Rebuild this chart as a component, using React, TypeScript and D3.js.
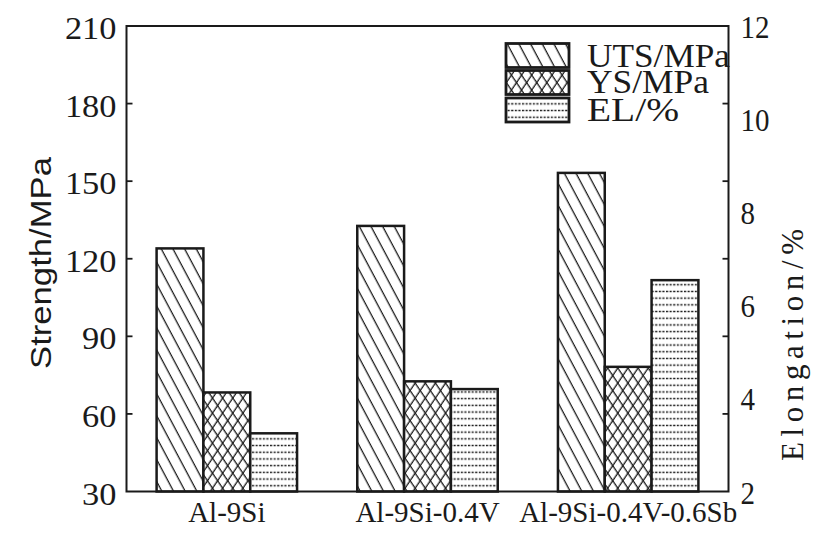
import React from "react";
import * as d3 from "d3";

const categories = ["Al-9Si", "Al-9Si-0.4V", "Al-9Si-0.4V-0.6Sb"];
const utsValues = [124, 132.7, 153.2];
const ysValues = [68.3, 72.6, 78.2];
const elValues = [3.25, 4.2, 6.54];
const leftTicks = [30, 60, 90, 120, 150, 180, 210];
const rightTicks = [2, 4, 6, 8, 10, 12];
const seriesNames = ["UTS/MPa", "YS/MPa", "EL/%"];

const W = 831;
const H = 533;
const M = { left: 126.5, right: 728.5, top: 26, bottom: 491.5 };

const serif = "'Liberation Serif', 'Times New Roman', serif";
const sans = "'Liberation Sans', Arial, sans-serif";

export default function App() {
  const x0 = d3
    .scaleBand<string>()
    .domain(categories)
    .range([M.left, M.right])
    .paddingInner(0.3)
    .paddingOuter(0.15);
  const x1 = d3
    .scaleBand<string>()
    .domain(seriesNames)
    .range([0, x0.bandwidth()])
    .padding(0);
  const yL = d3.scaleLinear().domain([30, 210]).range([M.bottom, M.top]);
  const yR = d3.scaleLinear().domain([2, 12]).range([M.bottom, M.top]);

  const fills = ["url(#uts)", "url(#ys1)", "url(#el)"];
  const legendX = 506;
  const legendW = 63;
  const legendRows = [43.5, 70.5, 98];
  const legendH = 24;
  const legendTextBase = [66.5, 92.5, 121];
  const legendTextLen = [143, 122, 92];

  const bw = 2.5;

  const drawBar = (
    key: string,
    xx: number,
    yTop: number,
    w: number,
    h: number,
    sIdx: number
  ) => (
    <g key={key}>
      <rect x={xx} y={yTop} width={w} height={h} fill="#fff" />
      <rect x={xx} y={yTop} width={w} height={h} fill={fills[sIdx]} />
      {sIdx === 1 && (
        <rect x={xx} y={yTop} width={w} height={h} fill="url(#ys2)" />
      )}
      <rect
        x={xx}
        y={yTop}
        width={w}
        height={h}
        fill="none"
        stroke="#1a1a1a"
        strokeWidth={bw}
      />
    </g>
  );

  return (
    <svg
      width={W}
      height={H}
      style={{ position: "absolute", left: 0, top: 0, background: "#fff" }}
    >
      <defs>
        <pattern
          id="uts"
          patternUnits="userSpaceOnUse"
          width={10.3}
          height={20}
          patternTransform="rotate(-28)"
        >
          <line x1={5} y1={-2} x2={5} y2={22} stroke="#1a1a1a" strokeWidth={1.3} />
        </pattern>
        <pattern
          id="ys1"
          patternUnits="userSpaceOnUse"
          width={8.4}
          height={20}
          patternTransform="rotate(-34)"
        >
          <line x1={4} y1={-2} x2={4} y2={22} stroke="#1a1a1a" strokeWidth={1.3} />
        </pattern>
        <pattern
          id="ys2"
          patternUnits="userSpaceOnUse"
          width={8.4}
          height={20}
          patternTransform="rotate(34)"
        >
          <line x1={4} y1={-2} x2={4} y2={22} stroke="#1a1a1a" strokeWidth={1.3} />
        </pattern>
        <pattern
          id="el"
          patternUnits="userSpaceOnUse"
          width={7.2}
          height={6.7}
        >
          <line
            x1={0}
            y1={3.3}
            x2={7.2}
            y2={3.3}
            stroke="#1a1a1a"
            strokeWidth={1.5}
            strokeDasharray="2.2 1.4"
          />
        </pattern>
      </defs>

      {/* bars */}
      {categories.map((c, i) => {
        const gx = x0(c)!;
        const vals = [
          yL(utsValues[i]),
          yL(ysValues[i]),
          yR(elValues[i]),
        ];
        return (
          <g key={c}>
            {seriesNames.map((s, j) =>
              drawBar(
                c + s,
                gx + x1(s)!,
                vals[j],
                x1.bandwidth(),
                M.bottom - vals[j],
                j
              )
            )}
          </g>
        );
      })}

      {/* frame */}
      <rect
        x={M.left}
        y={M.top}
        width={M.right - M.left}
        height={M.bottom - M.top}
        fill="none"
        stroke="#1a1a1a"
        strokeWidth={2}
      />

      {/* left ticks */}
      {leftTicks.map((t) => (
        <g key={"l" + t}>
          {t !== 30 && t !== 210 && (
            <line
              x1={M.left}
              x2={M.left + 6}
              y1={yL(t)}
              y2={yL(t)}
              stroke="#1a1a1a"
              strokeWidth={1.8}
            />
          )}
          <text
            x={M.left - 10}
            y={yL(t) + 13}
            textAnchor="end"
            fontFamily={serif}
            fontSize={31}
            fill="#1a1a1a"
            textLength={String(t).length * 17.2}
            lengthAdjust="spacingAndGlyphs"
          >
            {t}
          </text>
        </g>
      ))}

      {/* right ticks: marks share the left-axis positions, labels follow right scale */}
      {leftTicks
        .filter((t) => t !== 30 && t !== 210)
        .map((t) => (
          <line
            key={"rt" + t}
            x1={M.right}
            x2={M.right - 6}
            y1={yL(t)}
            y2={yL(t)}
            stroke="#1a1a1a"
            strokeWidth={1.8}
          />
        ))}
      {rightTicks.map((t) => (
        <text
          key={"r" + t}
          x={M.right + 12}
          y={yR(t) + 12}
          textAnchor="start"
          fontFamily={serif}
          fontSize={31}
          fill="#1a1a1a"
          textLength={String(t).length * 14.5}
          lengthAdjust="spacingAndGlyphs"
        >
          {t}
        </text>
      ))}

      {/* x labels */}
      {categories.map((c) => (
        <text
          key={"x" + c}
          x={x0(c)! + x0.bandwidth() / 2}
          y={521.5}
          textAnchor="middle"
          fontFamily={serif}
          fontSize={29}
          fill="#1a1a1a"
        >
          {c}
        </text>
      ))}

      {/* axis titles */}
      <text
        transform={`translate(51,263) rotate(-90)`}
        textAnchor="middle"
        fontFamily={sans}
        fontSize={30}
        fill="#1a1a1a"
        textLength={212}
        lengthAdjust="spacingAndGlyphs"
      >
        Strength/MPa
      </text>
      <text
        transform={`translate(803,345) rotate(-90)`}
        textAnchor="middle"
        fontFamily={serif}
        fontSize={31}
        fill="#1a1a1a"
        textLength={232}
        lengthAdjust="spacing"
      >
        Elongation/%
      </text>

      {/* legend */}
      {seriesNames.map((s, j) => (
        <g key={"lg" + s}>
          <rect x={legendX} y={legendRows[j]} width={legendW} height={legendH} fill="#fff" />
          <rect x={legendX} y={legendRows[j]} width={legendW} height={legendH} fill={fills[j]} />
          {j === 1 && (
            <rect x={legendX} y={legendRows[j]} width={legendW} height={legendH} fill="url(#ys2)" />
          )}
          <rect
            x={legendX}
            y={legendRows[j]}
            width={legendW}
            height={legendH}
            fill="none"
            stroke="#1a1a1a"
            strokeWidth={2.8}
          />
          <text
            x={587}
            y={legendTextBase[j]}
            fontFamily={serif}
            fontSize={33}
            fill="#1a1a1a"
            textLength={legendTextLen[j]}
            lengthAdjust="spacingAndGlyphs"
          >
            {s}
          </text>
        </g>
      ))}
    </svg>
  );
}
